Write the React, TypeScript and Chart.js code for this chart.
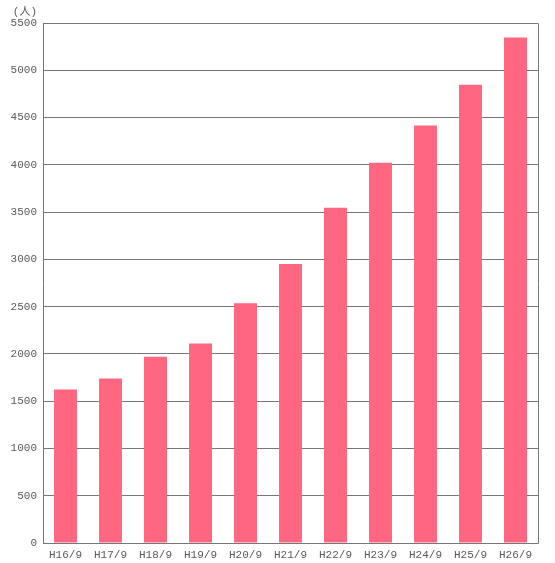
import React, { useEffect, useRef } from "react";
import { Chart, registerables } from "chart.js";

Chart.register(...registerables);

const categories = ["H16/9", "H17/9", "H18/9", "H19/9", "H20/9", "H21/9", "H22/9", "H23/9", "H24/9", "H25/9", "H26/9"];
const values = [1623, 1740, 1971, 2110, 2535, 2951, 3545, 4021, 4416, 4847, 5347];
const unitLabel = "(人)";
const yMax = 5500;
const yStep = 500;

const FONT = "'Liberation Mono', 'Noto Sans CJK JP', monospace";
const TEXT = "#595959";
const GRID = "#777777";
const BAR = "#FF6680";

export default function App() {
  const ref = useRef<HTMLCanvasElement | null>(null);
  useEffect(() => {
    if (!ref.current) return;
    const unitPlugin = {
      id: "unitLabel",
      afterDraw(chart: any) {
        const ctx = chart.ctx;
        const y = chart.scales.y;
        ctx.save();
        ctx.font = `11px ${FONT}`;
        ctx.fillStyle = TEXT;
        ctx.textAlign = "right";
        ctx.textBaseline = "alphabetic";
        ctx.fillText(unitLabel, y.right - 6, chart.chartArea.top - 8);
        ctx.restore();
      },
    };
    const frame = {
      id: "frame",
      afterDatasetsDraw(chart: any) {
        const { left, right, top, bottom } = chart.chartArea;
        const ctx = chart.ctx;
        ctx.save();
        ctx.strokeStyle = GRID;
        ctx.lineWidth = 1;
        ctx.beginPath();
        ctx.moveTo(Math.round(left) + 0.5, Math.round(top) + 0.5);
        ctx.lineTo(Math.round(left) + 0.5, Math.round(bottom) + 0.5);
        ctx.lineTo(Math.round(right) + 0.5, Math.round(bottom) + 0.5);
        ctx.lineTo(Math.round(right) + 0.5, Math.round(top) + 0.5);
        ctx.stroke();
        ctx.restore();
      },
    };
    const chart = new Chart(ref.current, {
      type: "bar",
      data: {
        labels: categories,
        datasets: [
          {
            data: values,
            backgroundColor: BAR,
            borderWidth: 0,
            inflateAmount: 0,
            categoryPercentage: 1,
            barPercentage: 0.51,
          },
        ],
      },
      options: {
        animation: false,
        responsive: false,
        maintainAspectRatio: false,
        layout: { padding: { left: 0, top: 23, right: 17, bottom: 0 } },
        plugins: {
          legend: { display: false },
          tooltip: { enabled: false },
          title: { display: false },
        },
        scales: {
          x: {
            grid: { display: false, drawTicks: false },
            border: { display: false },
            ticks: {
              color: TEXT,
              font: { family: FONT, size: 11 },
              padding: 5,
              maxRotation: 0,
              autoSkip: false,
            },
            afterFit(scale: any) {
              scale.height = 20;
            },
          },
          y: {
            min: 0,
            max: yMax,
            grid: { color: GRID, lineWidth: 1, drawTicks: false },
            border: { display: false },
            ticks: {
              stepSize: yStep,
              color: TEXT,
              font: { family: FONT, size: 11 },
              padding: 6,
              callback: (v: any) => String(v),
            },
            afterFit(scale: any) {
              scale.width = 43;
            },
          },
        },
      },
      plugins: [frame, unitPlugin],
    });
    return () => chart.destroy();
  }, []);
  return (
    <div style={{ position: "absolute", left: 0, top: 0, width: 555, height: 563, background: "#fff" }}>
      <canvas ref={ref} width={555} height={563} style={{ width: 555, height: 563, display: "block" }} />
    </div>
  );
}
